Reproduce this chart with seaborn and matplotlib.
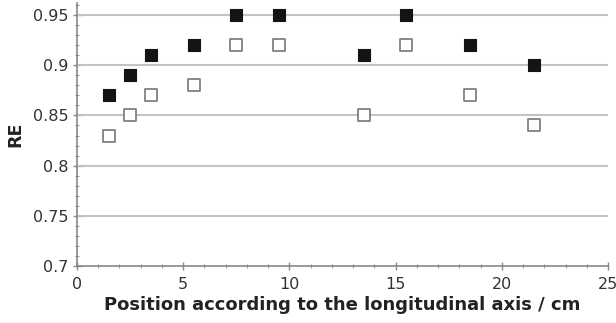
import matplotlib
matplotlib.use("Agg")
import matplotlib.pyplot as plt
import seaborn as sns
import pandas as pd
from matplotlib.ticker import MultipleLocator

positions = [1.5, 2.5, 3.5, 5.5, 7.5, 9.5, 13.5, 15.5, 18.5, 21.5]
re_filled = [0.87, 0.89, 0.91, 0.92, 0.95, 0.95, 0.91, 0.95, 0.92, 0.90]
re_open = [0.83, 0.85, 0.87, 0.88, 0.92, 0.92, 0.85, 0.92, 0.87, 0.84]

sns.set_theme(style="white")
plt.rcParams['font.family'] = ['DejaVu Sans']

fig = plt.figure(figsize=(6.16, 3.23), dpi=100)
ax = fig.add_axes([0.125, 0.176, 0.862, 0.815])

df_f = pd.DataFrame({"x": positions, "y": re_filled})
df_o = pd.DataFrame({"x": positions, "y": re_open})

sns.scatterplot(data=df_o, x="x", y="y", ax=ax, marker="s", s=70,
                facecolor="white", edgecolor="#777777", linewidth=1.2, zorder=3)
sns.scatterplot(data=df_f, x="x", y="y", ax=ax, marker="s", s=70,
                color="#141414", edgecolor="#141414", linewidth=0.8, zorder=4)

ax.set_xlim(0, 25)
ax.set_ylim(0.7, 0.962)
ax.set_xticks([0, 5, 10, 15, 20, 25])
ax.set_yticks([0.7, 0.75, 0.8, 0.85, 0.9, 0.95])
ax.set_yticklabels(["0.7", "0.75", "0.8", "0.85", "0.9", "0.95"])
ax.xaxis.set_minor_locator(MultipleLocator(1))
ax.yaxis.set_minor_locator(MultipleLocator(0.01))

for y in [0.75, 0.8, 0.85, 0.9, 0.95]:
    ax.axhline(y, color="#c4c4c4", lw=1.5, zorder=1)

for s in ["top", "right"]:
    ax.spines[s].set_visible(False)
for s in ["left", "bottom"]:
    ax.spines[s].set_color("#888888")
    ax.spines[s].set_linewidth(1.2)

ax.tick_params(axis="both", which="major", direction="inout", length=6, width=1,
               color="#888888", labelsize=11.5, labelcolor="#333333", pad=3)
ax.tick_params(axis="x", which="major", pad=5)
ax.tick_params(axis="both", which="minor", direction="inout", length=3, width=0.8,
               color="#999999")
ax.tick_params(axis="x", which="both", bottom=True)
ax.tick_params(axis="y", which="both", left=True)

ax.set_xlabel("Position according to the longitudinal axis / cm", fontsize=13,
              fontweight="bold", color="#222222", labelpad=3)
ax.set_ylabel("RE", fontsize=12.5, fontweight="bold", color="#222222", labelpad=6)

fig.savefig("out.png", dpi=100)
